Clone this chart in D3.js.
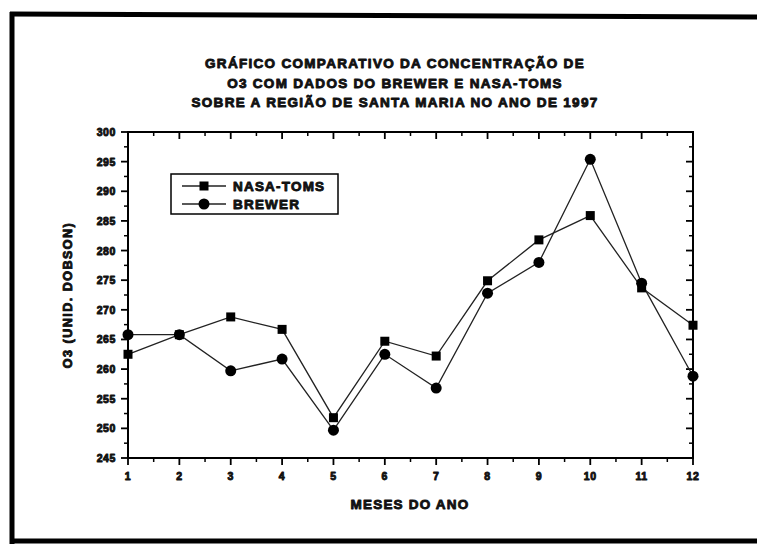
<!DOCTYPE html>
<html><head><meta charset="utf-8">
<script src="https://cdn.jsdelivr.net/npm/d3@7/dist/d3.min.js"></script>
<style>
html,body{margin:0;padding:0;background:#fff;}
text{font-family:"Liberation Sans",Arial,sans-serif;font-weight:bold;fill:#111;}
</style></head>
<body>
<script>
const months = [1,2,3,4,5,6,7,8,9,10,11,12];
const nasaToms = [262.5,265.8,268.8,266.7,251.8,264.7,262.2,274.9,281.8,285.9,273.7,267.4];
const brewer = [265.8,265.8,259.7,261.7,249.7,262.5,256.8,272.8,278.0,295.4,274.5,258.8];
const yTicks = [245,250,255,260,265,270,275,280,285,290,295,300];
const titleLines = ["GRÁFICO COMPARATIVO DA CONCENTRAÇÃO DE","O3 COM DADOS DO BREWER E NASA-TOMS","SOBRE A REGIÃO DE SANTA MARIA NO ANO DE 1997"];
const seriesNames = ["NASA-TOMS","BREWER"];

const W=757,H=547;
const svg=d3.select("body").append("svg").attr("width",W).attr("height",H);
svg.append("rect").attr("width",W).attr("height",H).attr("fill","#fff");

// outer frame (scanned page border)
const fr=svg.append("g").attr("stroke","#000").attr("stroke-width",5).attr("fill","none");
fr.append("line").attr("x1",10).attr("y1",14).attr("x2",757).attr("y2",17);
fr.append("line").attr("x1",12).attr("y1",12).attr("x2",12).attr("y2",544);
fr.append("line").attr("x1",10).attr("y1",541).attr("x2",757).attr("y2",541);

const L=128,R=693,T=132,B=458;
const x=d3.scaleLinear().domain([1,12]).range([L,R]);
const y=d3.scaleLinear().domain([245,300]).range([B,T]);

// plot frame
svg.append("rect").attr("x",L).attr("y",T).attr("width",R-L).attr("height",B-T)
  .attr("fill","none").attr("stroke","#000").attr("stroke-width",2);

const minorY=d3.range(247.5,300,5);
const minorX=d3.range(1.5,12,1);
const tk=svg.append("g").attr("stroke","#000");
yTicks.forEach(v=>tk.append("line").attr("x1",L-7).attr("x2",L+1).attr("y1",y(v)).attr("y2",y(v)).attr("stroke-width",1.8));
minorY.forEach(v=>tk.append("line").attr("x1",L-4).attr("x2",L).attr("y1",y(v)).attr("y2",y(v)).attr("stroke-width",1.5));
yTicks.forEach(v=>tk.append("line").attr("x1",R-7).attr("x2",R).attr("y1",y(v)).attr("y2",y(v)).attr("stroke-width",1.8));
minorY.forEach(v=>tk.append("line").attr("x1",R-4).attr("x2",R).attr("y1",y(v)).attr("y2",y(v)).attr("stroke-width",1.5));
months.forEach(m=>tk.append("line").attr("x1",x(m)).attr("x2",x(m)).attr("y1",B-1).attr("y2",B+7).attr("stroke-width",1.8));
minorX.forEach(m=>tk.append("line").attr("x1",x(m)).attr("x2",x(m)).attr("y1",B).attr("y2",B+4).attr("stroke-width",1.5));
months.forEach(m=>tk.append("line").attr("x1",x(m)).attr("x2",x(m)).attr("y1",T).attr("y2",T+7).attr("stroke-width",1.8));
minorX.forEach(m=>tk.append("line").attr("x1",x(m)).attr("x2",x(m)).attr("y1",T).attr("y2",T+4).attr("stroke-width",1.5));

const heavy=sel=>sel.attr("stroke","#111").attr("stroke-width",0.9).attr("stroke-linejoin","round");

// tick labels
svg.append("g").selectAll("text").data(yTicks).join("text")
  .attr("x",L-12).attr("y",d=>y(d)+4).attr("text-anchor","end")
  .attr("font-size",10.5).attr("letter-spacing",0.6).call(heavy).text(d=>d);
svg.append("g").selectAll("text").data(months).join("text")
  .attr("x",d=>x(d)).attr("y",B+22).attr("text-anchor","middle")
  .attr("font-size",10.5).attr("letter-spacing",0.6).call(heavy).text(d=>d);

// axis titles
svg.append("text").attr("x",410).attr("y",509).attr("text-anchor","middle")
  .attr("font-size",13.5).attr("letter-spacing",1.2).call(heavy).text("MESES DO ANO");
svg.append("text").attr("transform","translate(72,295) rotate(-90)").attr("text-anchor","middle")
  .attr("font-size",12.5).attr("letter-spacing",1.5).call(heavy).text("O3 (UNID. DOBSON)");

// title
svg.append("g").selectAll("text").data(titleLines).join("text")
  .attr("x",395).attr("y",(d,i)=>68+i*19.5).attr("text-anchor","middle")
  .attr("font-size",13.5).attr("letter-spacing",1.3).call(heavy).text(d=>d);

// lines
const line=d3.line().x((d,i)=>x(months[i])).y(d=>y(d));
[nasaToms,brewer].forEach(s=>svg.append("path").attr("d",line(s)).attr("fill","none")
  .attr("stroke","#222").attr("stroke-width",1.3));

// markers
svg.append("g").selectAll("rect").data(nasaToms).join("rect")
  .attr("x",(d,i)=>x(months[i])-4.5).attr("y",d=>y(d)-4.5).attr("width",9).attr("height",9).attr("fill","#000");
svg.append("g").selectAll("circle").data(brewer).join("circle")
  .attr("cx",(d,i)=>x(months[i])).attr("cy",d=>y(d)).attr("r",5.5).attr("fill","#000");

// legend
const lg=svg.append("g");
lg.append("rect").attr("x",171).attr("y",174).attr("width",167).attr("height",40)
  .attr("fill","#fff").attr("stroke","#000").attr("stroke-width",1.5);
[186,204].forEach((yy,i)=>{
  lg.append("line").attr("x1",182).attr("x2",226).attr("y1",yy).attr("y2",yy).attr("stroke","#222").attr("stroke-width",1.3);
  if(i===0) lg.append("rect").attr("x",199.5).attr("y",yy-4.5).attr("width",9).attr("height",9).attr("fill","#000");
  else lg.append("circle").attr("cx",204).attr("cy",yy).attr("r",5.5).attr("fill","#000");
  lg.append("text").attr("x",233).attr("y",yy+5).attr("font-size",13.5).attr("letter-spacing",1.2)
    .call(heavy).text(seriesNames[i]);
});
</script>
</body></html>
